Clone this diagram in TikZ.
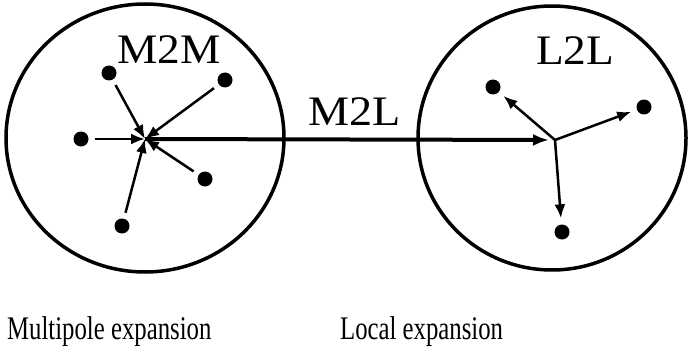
\documentclass[tikz,border=0pt]{standalone}
\usepackage{fontspec}
\setmainfont{Liberation Serif}
\usetikzlibrary{arrows.meta}
\tikzset{
  cell/.style={draw=black, line width=3.5pt},
  pt/.style={circle, fill=black, inner sep=0pt, minimum size=15pt},
  arr/.style={line width=2.5pt, -{Latex[length=14pt,width=11pt]}},
  bigarr/.style={line width=4pt, -{Latex[length=16pt,width=12pt]}},
  lbl/.style={inner sep=0pt, font=\fontsize{42}{42}\selectfont},
  captext/.style={inner sep=0pt, font=\fontsize{33}{33}\selectfont}
}
\begin{document}
\begin{tikzpicture}[x=1pt,y=-1pt]
\useasboundingbox (0,0) rectangle (690,350);
% circles
\draw[cell] (145,138) ellipse [x radius=139, y radius=134];
\draw[cell] (552,138) ellipse [x radius=134, y radius=132];
% centres
\coordinate (mc) at (145,139);
\coordinate (lc) at (555,140);
% multipole points
\node[pt] (m1) at (109,73) {};
\node[pt] (m2) at (225,80) {};
\node[pt] (m3) at (81,139) {};
\node[pt] (m4) at (205,179) {};
\node[pt] (m5) at (122,226) {};
\foreach \p in {m1,m2,m3,m4,m5}
  \draw[arr, shorten <=6pt] (\p) -- (mc);
% local points
\node[pt] (l1) at (493,87) {};
\node[pt] (l2) at (644,107) {};
\node[pt] (l3) at (562,232) {};
\foreach \p in {l1,l2,l3}
  \draw[arr, shorten >=6pt] (lc) -- (\p);
% M2L
\draw[bigarr, shorten >=6pt] (mc) -- (lc);
% labels
\node[lbl, anchor=base west] (t1) at (117,64) {\scalebox{1.08}[1]{M2M}};
\node[lbl, anchor=base west] (t2) at (536,65) {\scalebox{1.08}[1]{L2L}};
\node[lbl, anchor=base west] (t3) at (308,125) {\scalebox{1.1}[1]{M2L}};
\node[captext, anchor=base west] (b1) at (7,339) {\scalebox{0.75}[1]{Multipole expansion}};
\node[captext, anchor=base west] (b2) at (340,339) {\scalebox{0.75}[1]{Local expansion}};
\end{tikzpicture}
\end{document}
